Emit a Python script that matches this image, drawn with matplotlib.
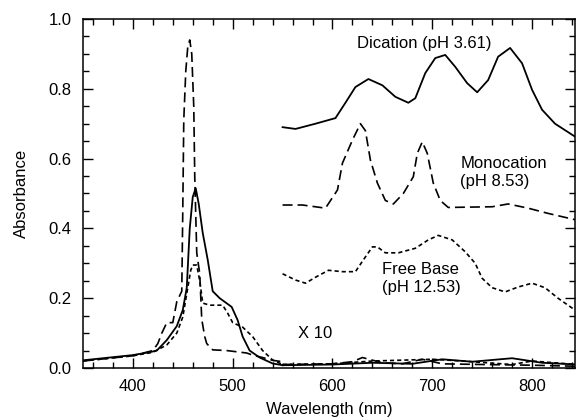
import matplotlib
matplotlib.use("Agg")
import matplotlib.pyplot as plt
from matplotlib.ticker import MultipleLocator

plt.rcParams['font.family'] = ['Liberation Sans', 'DejaVu Sans']

# Soret region (350-550 nm)
soret_di_wl = [350, 370, 390, 400, 410, 418, 424, 434, 444, 450, 454, 457, 460, 463, 466, 470,
               475, 480, 487, 499, 505, 510, 517, 527, 540, 550]
soret_di_a = [0.022, 0.028, 0.034, 0.037, 0.042, 0.046, 0.05, 0.08, 0.12, 0.166, 0.23, 0.40,
              0.49, 0.515, 0.47, 0.387, 0.31, 0.22, 0.20, 0.175, 0.137, 0.09, 0.05, 0.03,
              0.013, 0.008]

soret_mono_wl = [350, 400, 420, 425, 429, 434, 440, 444, 449, 450, 451, 453, 455, 457, 459, 461,
                 462, 464, 467, 469, 472, 474, 480, 494, 514, 520, 530, 540, 550]
soret_mono_a = [0.02, 0.035, 0.05, 0.07, 0.1, 0.13, 0.13, 0.19, 0.22, 0.45, 0.71, 0.85, 0.92,
                0.94, 0.90, 0.75, 0.55, 0.33, 0.27, 0.14, 0.09, 0.07, 0.052, 0.05, 0.043,
                0.037, 0.03, 0.022, 0.018]

soret_fb_wl = [350, 400, 420, 434, 444, 450, 455, 458, 460, 464, 467, 470, 477, 490, 495, 500,
               510, 520, 530, 540, 550]
soret_fb_a = [0.02, 0.035, 0.045, 0.066, 0.10, 0.146, 0.23, 0.28, 0.295, 0.295, 0.25, 0.186,
              0.18, 0.18, 0.157, 0.13, 0.117, 0.09, 0.05, 0.023, 0.01]

# Q-band region (550-845 nm), as measured
q_di_wl = [550, 575, 600, 640, 680, 710, 740, 780, 810, 845]
q_di_a = [0.008, 0.009, 0.01, 0.015, 0.012, 0.025, 0.018, 0.028, 0.015, 0.01]
q_mono_wl = [550, 600, 620, 630, 650, 670, 690, 710, 750, 800, 845]
q_mono_a = [0.01, 0.012, 0.018, 0.03, 0.015, 0.012, 0.025, 0.012, 0.01, 0.008, 0.005]
q_fb_wl = [550, 600, 640, 700, 730, 780, 800, 845]
q_fb_a = [0.01, 0.012, 0.02, 0.025, 0.02, 0.01, 0.02, 0.01]

# Q-band region, x 10 and offset
x10_di_wl = [550, 563, 583, 603, 613, 623, 636, 650, 663, 676, 683, 693, 703, 713, 723, 735,
             745, 756, 766, 778, 790, 800, 810, 823, 843]
x10_di_a = [0.69, 0.685, 0.70, 0.716, 0.76, 0.805, 0.828, 0.81, 0.777, 0.76, 0.773, 0.845,
            0.888, 0.897, 0.863, 0.816, 0.79, 0.825, 0.892, 0.917, 0.873, 0.797, 0.74, 0.70,
            0.663]

x10_mono_wl = [550, 570, 593, 605, 610, 620, 628, 633, 638, 645, 653, 661, 671, 681, 685, 690,
               695, 701, 708, 716, 760, 776, 796, 816, 843]
x10_mono_a = [0.467, 0.467, 0.458, 0.51, 0.587, 0.653, 0.70, 0.68, 0.596, 0.53, 0.48, 0.47,
              0.50, 0.548, 0.615, 0.648, 0.615, 0.53, 0.48, 0.46, 0.462, 0.47, 0.458, 0.443,
              0.425]

x10_fb_wl = [550, 563, 573, 583, 596, 610, 623, 631, 640, 645, 653, 666, 683, 696, 706, 720,
             733, 743, 750, 760, 773, 786, 800, 813, 826, 843]
x10_fb_a = [0.27, 0.252, 0.243, 0.26, 0.28, 0.276, 0.276, 0.31, 0.347, 0.347, 0.33, 0.33,
            0.343, 0.367, 0.38, 0.367, 0.333, 0.30, 0.257, 0.23, 0.218, 0.232, 0.243, 0.23,
            0.20, 0.166]

fig = plt.figure(figsize=(5.77, 4.20), dpi=100)
ax = fig.add_axes([0.1438, 0.1238, 0.8527, 0.831])

solid = dict(color='black', lw=1.3, ls='-')
mono = dict(color='black', lw=1.2, dashes=(6, 3))
fb = dict(color='black', lw=1.2, dashes=(2.5, 1.8))

for wl, a, st in [(soret_di_wl, soret_di_a, solid), (soret_mono_wl, soret_mono_a, mono),
                  (soret_fb_wl, soret_fb_a, fb), (q_di_wl, q_di_a, solid),
                  (q_mono_wl, q_mono_a, mono), (q_fb_wl, q_fb_a, fb),
                  (x10_di_wl, x10_di_a, solid), (x10_mono_wl, x10_mono_a, mono),
                  (x10_fb_wl, x10_fb_a, fb)]:
    ax.plot(wl, a, **st)

ax.text(692, 0.93, "Dication (pH 3.61)", fontsize=12, ha='center', va='center')
ax.text(728, 0.56, "Monocation\n(pH 8.53)", fontsize=12, ha='left', va='center',
        linespacing=1.25)
ax.text(650, 0.257, "Free Base\n(pH 12.53)", fontsize=12, ha='left', va='center',
        linespacing=1.25)
ax.text(565, 0.10, "X 10", fontsize=12, ha='left', va='center')

ax.set_xlim(350, 843)
ax.set_ylim(0, 1.0)
ax.xaxis.set_major_locator(MultipleLocator(100))
ax.xaxis.set_minor_locator(MultipleLocator(20))
ax.yaxis.set_major_locator(MultipleLocator(0.2))
ax.yaxis.set_minor_locator(MultipleLocator(0.05))
ax.yaxis.set_major_formatter(plt.FuncFormatter(lambda v, p: "%.1f" % v))
ax.tick_params(which='both', direction='in', top=True, right=True, labelsize=12, width=1)
ax.tick_params(which='major', length=7, pad=8)
ax.tick_params(which='minor', length=4)
for s in ax.spines.values():
    s.set_linewidth(1.1)

ax.set_xlabel("Wavelength (nm)", fontsize=12, labelpad=6)
ax.set_ylabel("Absorbance", fontsize=12, labelpad=14)

fig.savefig("out.png", dpi=100)
